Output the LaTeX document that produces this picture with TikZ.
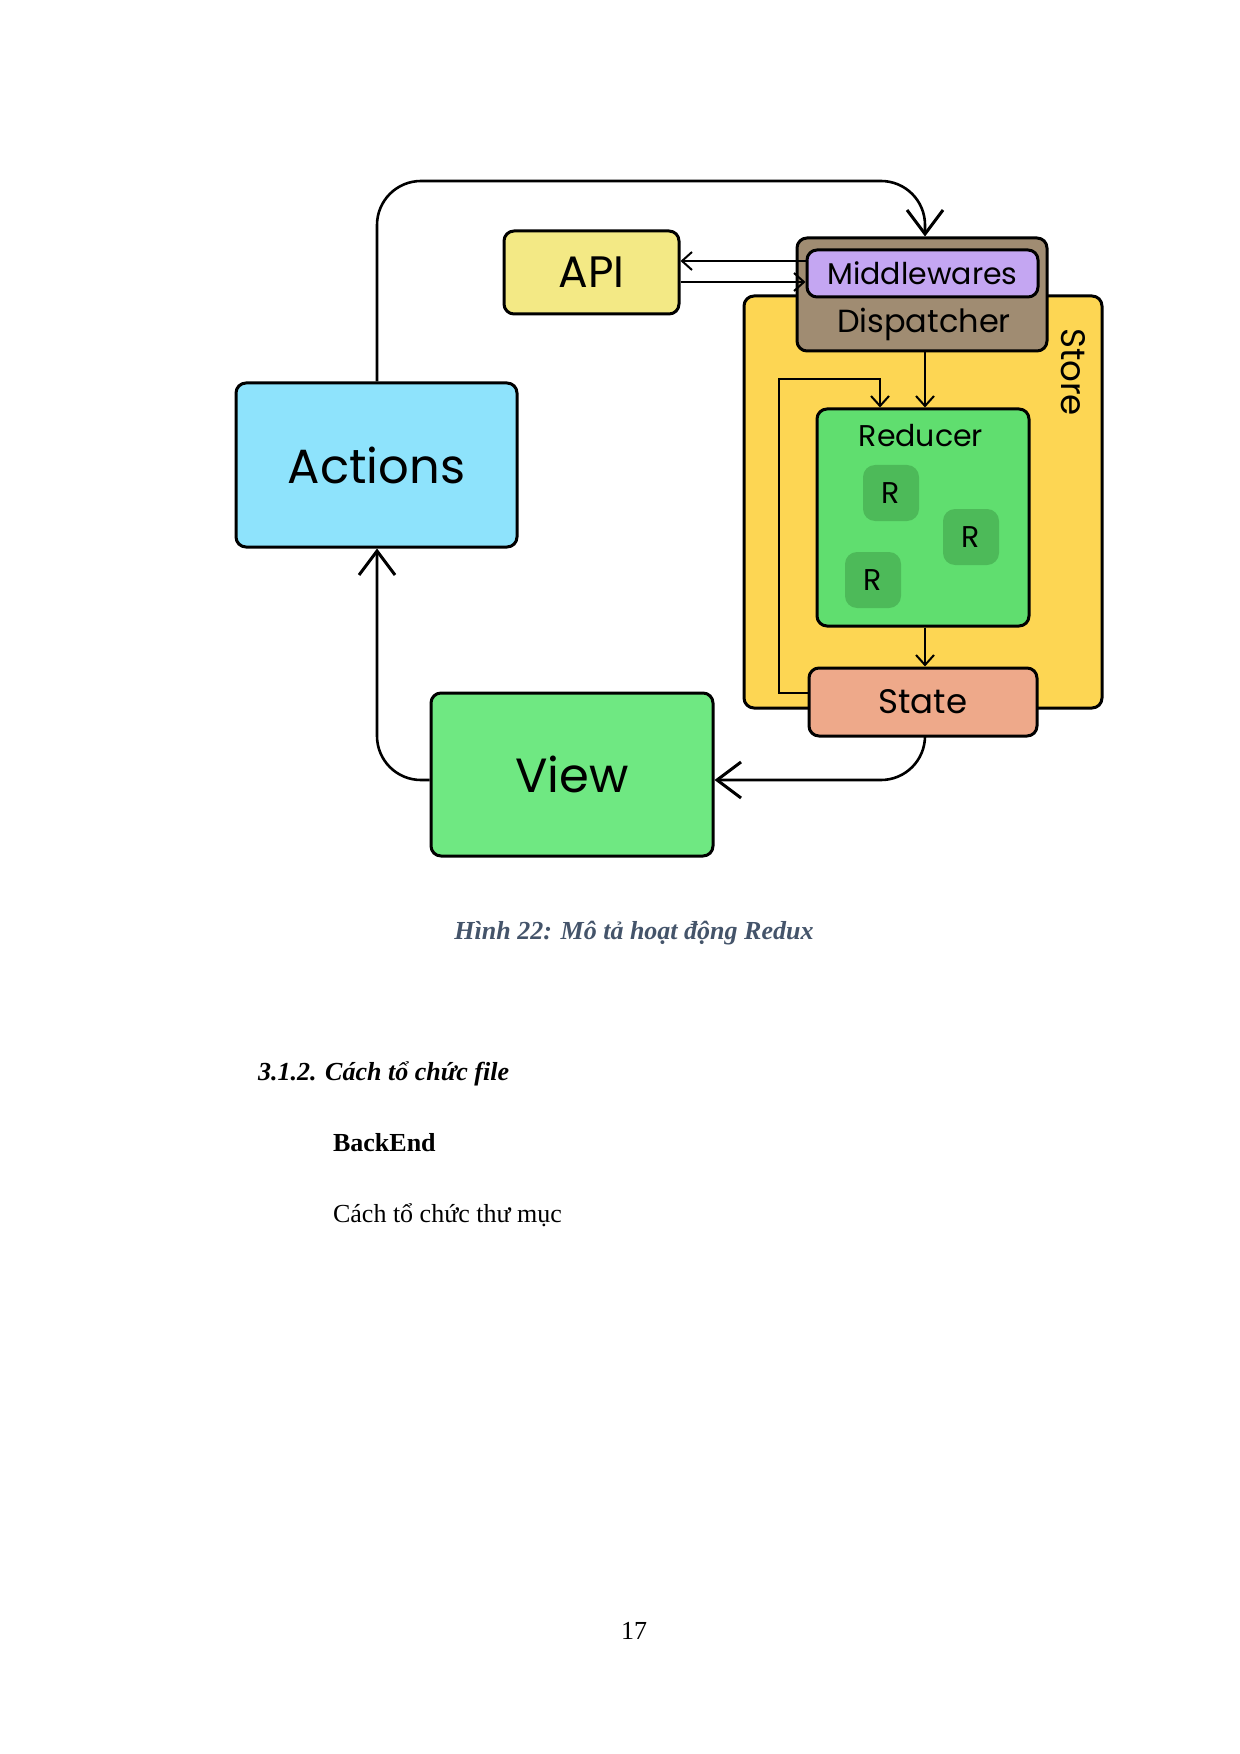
\documentclass[tikz,border=0pt]{standalone}
\usepackage{fontspec}
\setmainfont{Liberation Serif}
\newfontfamily\dia{Poppins}
\usetikzlibrary{arrows.meta}
\definecolor{cact}{HTML}{8EE3FC}
\definecolor{cview}{HTML}{6FE882}
\definecolor{capi}{HTML}{F3E985}
\definecolor{cdisp}{HTML}{A08C72}
\definecolor{cmid}{HTML}{C4A6F2}
\definecolor{cstore}{HTML}{FDD653}
\definecolor{cred}{HTML}{60DE6F}
\definecolor{crr}{HTML}{4DBA59}
\definecolor{cstate}{HTML}{EEA98A}
\definecolor{ccap}{HTML}{44546A}
\begin{document}
\begin{tikzpicture}[x=0.5pt,y=-0.5pt,
  box/.style={draw=black,line width=1.5pt,rounded corners=5pt,inner sep=0pt,font=\dia},
  con/.style={line width=1.3pt,rounded corners=22pt},
  big/.style={-{Straight Barb[length=12pt,width=18pt,line width=1.5pt]}},
  small/.style={-{Straight Barb[length=5pt,width=9pt,line width=1pt]}}]
\useasboundingbox (0,0) rectangle (1240,1754);
% store
\node[box,fill=cstore,minimum width=179pt,minimum height=206pt] (store) at (923,502) {};
\node[font=\dia\fontsize{17}{17}\selectfont,rotate=-90] (storelbl) at (1073,372) {Store};
\node[box,fill=cdisp,minimum width=125pt,minimum height=56.5pt] (disp) at (922,294.5) {};
\node[font=\dia\fontsize{16}{16}\selectfont] (displbl) at (924,324) {Dispatcher};
\node[box,fill=cmid,minimum width=115.5pt,minimum height=23.5pt,font=\dia\fontsize{15}{15}\selectfont] (mid) at (922.5,273.5) {Middlewares};
\node[box,fill=cred,minimum width=106pt,minimum height=108.5pt] (red) at (923,517.5) {};
\node[font=\dia\fontsize{15}{15}\selectfont] (redlbl) at (921,436) {Reducer};
\tikzset{rr/.style={fill=crr,rounded corners=6pt,minimum size=28pt,inner sep=0pt,font=\dia\fontsize{15}{15}\selectfont}}
\node[rr] (r1) at (891,493) {R};
\node[rr] (r2) at (971,537) {R};
\node[rr] (r3) at (873,580) {R};
\node[box,fill=cstate,minimum width=114pt,minimum height=34pt,font=\dia\fontsize{17}{17}\selectfont] (state) at (923,702) {State};
\node[box,fill=capi,minimum width=87.5pt,minimum height=41.5pt,font=\dia\fontsize{22}{22}\selectfont] (api) at (591.5,272.5) {API};
\node[box,fill=cact,minimum width=140.5pt,minimum height=82pt,font=\dia\fontsize{24}{24}\selectfont] (act) at (376.5,465) {Actions};
\node[box,fill=cview,minimum width=141pt,minimum height=81.5pt,font=\dia\fontsize{24}{24}\selectfont] (view) at (572,774.5) {View};
% connectors
\coordinate (t1) at (377,181);
\coordinate (t2) at (925,181);
\draw[con,big] (act.north -| t1) -- (t1) -- (t2) -- (disp.north -| t2);
\draw[line width=1.2pt,small] (mid.west |- 0,261) -- (api.east |- 0,261);
\draw[line width=1.2pt,small] (api.east |- 0,282) -- (mid.west |- 0,282);
\draw[line width=1.2pt,small] (disp.south -| 925,0) -- (red.north -| 925,0);
\draw[line width=1.2pt,small] (red.south -| 925,0) -- (state.north -| 925,0);
\coordinate (f1) at (779,693);
\coordinate (f2) at (779,379);
\coordinate (f3) at (880,379);
\draw[line width=1.2pt,small] (state.west |- f1) -- (f1) -- (f2) -- (f3) -- (red.north -| f3);
\coordinate (s1) at (925,780);
\draw[con,big] (state.south -| s1) -- (s1) -- (view.east |- s1);
\coordinate (v1) at (377,780);
\draw[con,big] (view.west |- v1) -- (v1) -- (act.south -| v1);
% text
\node[font=\fontsize{13}{13}\selectfont\bfseries\itshape,text=ccap] (cap) at (634,933) {Hình 22: Mô tả hoạt động Redux};
\node[font=\fontsize{13}{13}\selectfont\bfseries\itshape,anchor=west] (sec) at (251,1074) {3.1.2. Cách tổ chức file};
\node[font=\fontsize{13}{13}\selectfont\bfseries,anchor=west] (be) at (326,1143) {BackEnd};
\node[font=\fontsize{13}{13}\selectfont,anchor=west] (cd) at (326,1215) {Cách tổ chức thư mục};
\node[font=\fontsize{13}{13}\selectfont] (pg) at (634,1631) {17};
\end{tikzpicture}
\end{document}
